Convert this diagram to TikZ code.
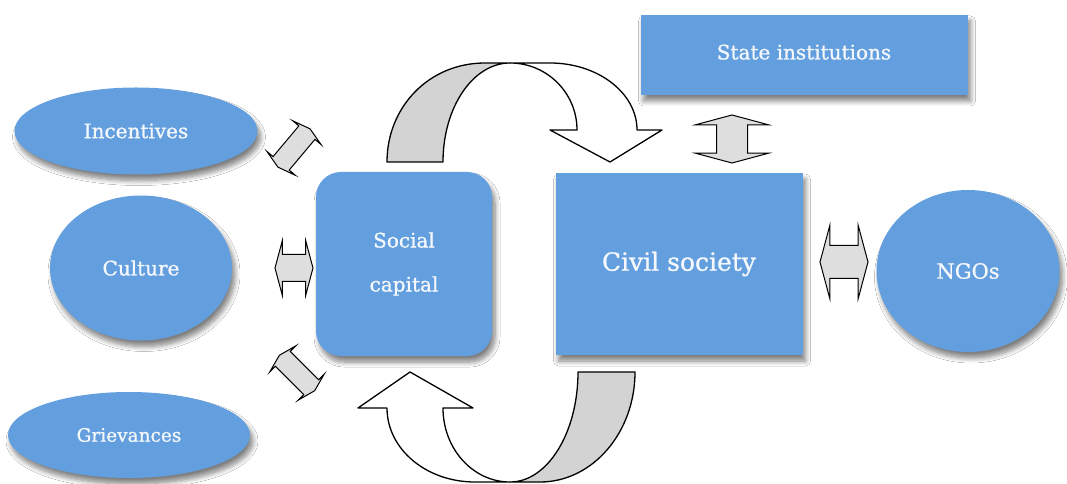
\documentclass[tikz,border=0pt]{standalone}
\usepackage{fontspec}
\setmainfont[FakeBold=1]{DejaVu Serif}
\usetikzlibrary{shapes.geometric,shapes.arrows,shadows.blur}
\definecolor{Sky}{HTML}{639FDE}
\definecolor{Ink}{HTML}{F4F8FC}
\definecolor{Paper}{HTML}{D3D3D3}
\definecolor{Pale}{HTML}{DEDEDE}

\tikzset{
  blob/.style={fill=Sky,text=Ink,align=center,inner sep=0pt,
    blur shadow={shadow xshift=3bp,shadow yshift=-6bp,shadow blur radius=5bp,shadow blur steps=8,shadow opacity=50}},
  oval/.style={blob,ellipse},
  block/.style={blob,rectangle},
  twoway/.style={double arrow,draw=black,fill=Pale,line width=1bp,inner xsep=0pt,
    double arrow tip angle=150},
  band/.style={draw=black,line width=1.3bp,line join=round},
}
\newcommand{\lbl}[1]{\fontsize{#1bp}{44bp}\selectfont}

\begin{document}
\begin{tikzpicture}[x=1bp,y=-1bp]
\useasboundingbox[fill=white] (0,0) rectangle (1067,484);

% left column
\node[oval,minimum width=243bp,minimum height=87bp,font=\lbl{20}] (incent) at (136,131) {Incentives};
\node[oval,minimum width=182bp,minimum height=145bp,font=\lbl{20}] (culture) at (141,268) {Culture};
\node[oval,minimum width=242bp,minimum height=86bp,font=\lbl{18.5}] (griev) at (129,435) {Grievances};

% centre
\node[block,rounded corners=25bp,minimum width=176bp,minimum height=184bp,font=\lbl{20}] (social) at (404,264) {Social\\capital};
\node[block,minimum width=247bp,minimum height=182bp,font=\lbl{25}] (civil) at (679,264) {Civil society};

% right side
\node[block,minimum width=327bp,minimum height=80bp,font=\lbl{20}] (state) at (804,55) {\raisebox{6bp}{State institutions}};
\node[oval,minimum width=183bp,minimum height=162bp,font=\lbl{21}] (ngo) at (968,271) {NGOs};

% two-way links
\node[twoway,inner ysep=13bp,minimum height=38bp,double arrow head extend=14bp] (lr1) at (294,268) {};
\node[twoway,inner ysep=16bp,minimum height=48bp,double arrow head extend=20bp] (lr2) at (844,262) {};
\node[twoway,rotate=90,inner ysep=15bp,minimum height=48bp,double arrow head extend=21bp] (ud) at (732,139) {};
\node[twoway,rotate=50,inner ysep=10bp,minimum height=50bp,double arrow head extend=8bp] (dg1) at (294,148) {};
\node[twoway,rotate=-45,inner ysep=10bp,minimum height=50bp,double arrow head extend=8bp] (dg2) at (297,373) {};

% curved arrow over the top
\filldraw[band,fill=Paper] (387,162) .. controls (387,107.3) and (428.6,63) .. (485,63) -- (510,63)
  .. controls (473,63) and (443,107.3) .. (443,162) -- cycle;
\filldraw[band,fill=white] (510,63) -- (550,63) .. controls (598,63) and (637,93) .. (637,130)
  -- (662,130) -- (610,162) -- (550,130) -- (577,130) .. controls (577,93) and (547,63) .. (510,63) -- cycle;

% curved arrow underneath
\filldraw[band,fill=Paper] (635,372) .. controls (635,432.7) and (592.4,482) .. (540,482) -- (510,482)
  .. controls (547.5,482) and (578,432.7) .. (578,372) -- cycle;
\filldraw[band,fill=white] (510,482) -- (475,482) .. controls (426,482) and (387,448.9) .. (387,408)
  -- (358,408) -- (410,372) -- (473,408) -- (443,408) .. controls (443,448.9) and (473,482) .. (510,482) -- cycle;
\end{tikzpicture}
\end{document}
